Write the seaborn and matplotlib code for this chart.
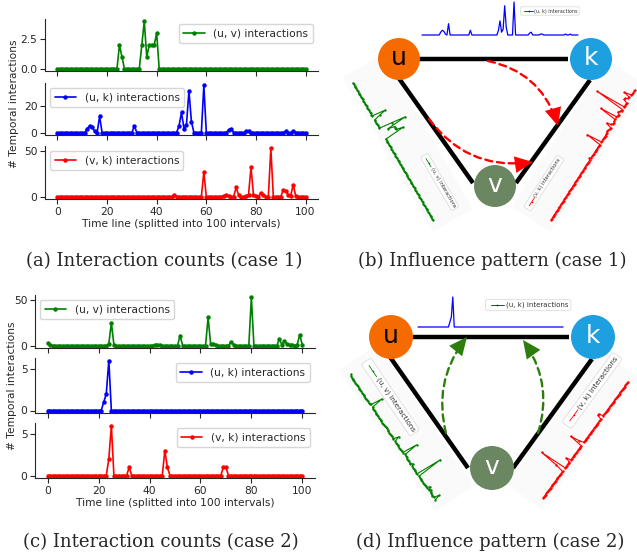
import numpy as np
import matplotlib
matplotlib.use('Agg')
import matplotlib.pyplot as plt
import seaborn as sns
from matplotlib.patches import Circle, FancyArrowPatch, Rectangle
from matplotlib.transforms import Affine2D

W, H = 637, 556
time_line = np.arange(101)

# non-zero intervals of each series (every other interval is 0)
uv1_t = [25, 26, 34, 35, 36, 37, 38, 39, 40]
uv1_v = [2, 1, 2, 4, 1, 2, 2, 2, 3]
uk1_t = [12, 13, 14, 15, 17, 31, 49, 50, 51, 52, 53, 54, 59, 69, 70, 76, 77, 92, 95]
uk1_v = [3, 5, 4, 1, 12, 5, 5, 15, 3, 6, 31, 8, 35, 2, 3, 1, 1, 1, 1]
vk1_t = [47, 59, 67, 68, 69, 72, 73, 76, 77, 78, 79, 80, 82, 83, 86, 91, 92, 93, 94, 95, 96]
vk1_v = [2, 27, 1, 2, 1, 10, 2, 1, 2, 32, 2, 1, 4, 2, 53, 7, 6, 2, 1, 13, 1]

uv2_t = [0, 1, 24, 25, 26, 42, 43, 44, 52, 63, 64, 65, 66, 72, 73, 80,
         91, 92, 93, 94, 95, 96, 98, 99, 100]
uv2_v = [3, 1, 2, 25, 1, 1, 1, 1, 11, 31, 2, 2, 1, 4, 1, 53,
         7, 1, 5, 2, 1, 1, 1, 12, 1]
uk2_t = [22, 23, 24]
uk2_v = [1, 2, 6]
vk2_t = [24, 25, 32, 46, 47, 69, 70]
vk2_v = [2, 6, 1, 3, 1, 1, 1]

labels = ['(u, v) interactions', '(u, k) interactions', '(v, k) interactions']
colors = ['green', 'blue', 'red']
captions = ['(a) Interaction counts (case 1)', '(b) Influence pattern (case 1)',
            '(c) Interaction counts (case 2)', '(d) Influence pattern (case 2)']


def series(ts, vs):
    arr = np.zeros(len(time_line))
    arr[ts] = vs
    return arr


case1 = [series(uv1_t, uv1_v), series(uk1_t, uk1_v), series(vk1_t, vk1_v)]
case2 = [series(uv2_t, uv2_v), series(uk2_t, uk2_v), series(vk2_t, vk2_v)]

sns.set_style('ticks')
plt.rcParams['font.family'] = ['DejaVu Sans']
plt.rcParams['font.size'] = 7.7

fig = plt.figure(figsize=(W / 100, H / 100), dpi=100)


def px_axes(x0, y0, x1, y1):
    return fig.add_axes([x0 / W, 1 - y1 / H, (x1 - x0) / W, (y1 - y0) / H])


def counts_panel(xs, rows, data, locs, yticks, ylab_xy):
    axes = []
    for i, (y0, y1) in enumerate(rows):
        ax = px_axes(xs[0], y0, xs[1], y1)
        sns.lineplot(x=time_line, y=data[i], ax=ax, color=colors[i], marker='o',
                     markersize=3.2, markeredgewidth=0, linewidth=1.2, label=labels[i])
        ax.legend(loc=locs[i], fontsize=7.7)
        ax.set_xlim(-5, 105)
        ax.set_xticks(range(0, 101, 20))
        ax.set_yticks(yticks[i][0])
        ax.set_yticklabels(yticks[i][1])
        ax.tick_params(labelsize=7.7, length=3.5, pad=2)
        ax.set_ylabel('')
        sns.despine(ax=ax)
        if i < 2:
            ax.tick_params(labelbottom=False)
        axes.append(ax)
    axes[-1].set_xlabel('Time line (splitted into 100 intervals)', fontsize=7.7, labelpad=2)
    fig.text(ylab_xy[0] / W, 1 - ylab_xy[1] / H, '# Temporal interactions',
             rotation=90, ha='center', va='center', fontsize=7.7)
    return axes


counts_panel((45, 318), [(19, 71), (83, 135), (146, 199)], case1,
             ['upper right', 'upper left', 'upper left'],
             [([0, 2.5], ['0.0', '2.5']), ([0, 20], ['0', '20']), ([0, 50], ['0', '50'])],
             (14, 104))
counts_panel((35, 315), [(295, 348), (358, 413), (423, 478)], case2,
             ['upper left', 'upper right', 'upper right'],
             [([0, 50], ['0', '50']), ([0, 5], ['0', '5']), ([0, 5], ['0', '5'])],
             (12, 386))

# diagram layer in pixel coordinates (y up)
dax = fig.add_axes([0, 0, 1, 1])
dax.set_xlim(0, W)
dax.set_ylim(0, H)
dax.axis('off')


def S(x, y):
    return x, H - y


def mini_plot(vals, start, end, height, color, label, leg_along, leg_perp, fs, side=True):
    sx, sy = S(*start)
    ex, ey = S(*end)
    length = np.hypot(ex - sx, ey - sy)
    ang = np.degrees(np.arctan2(ey - sy, ex - sx))
    frame = Affine2D().rotate_deg(ang).translate(sx, sy) + dax.transData
    data_tr = Affine2D().scale(length / 100, height / vals.max()) + frame
    if side:
        dax.add_patch(Rectangle((-10, -6), length + 20, 46, transform=frame,
                                fc='#fafafa', ec='none', zorder=0))
        dax.plot(time_line, vals, transform=data_tr, color=color, lw=0.8,
                 marker='o', ms=1.7, mew=0, zorder=2)
    else:
        dax.plot(time_line, vals, transform=data_tr, color=color, lw=0.9, zorder=2)
    em = fs * 100 / 72
    dax.text(leg_along, leg_perp, '        ' + label, transform=frame, rotation=ang,
             rotation_mode='anchor', ha='left', va='center', fontsize=fs, zorder=3,
             color='#333333',
             bbox=dict(boxstyle='round,pad=0.35', fc='white', ec='#d8d8d8', lw=0.5))
    dax.plot([leg_along + 0.4 * em, leg_along + 2.3 * em], [leg_perp, leg_perp],
             transform=frame, color=color, lw=0.6, zorder=4)
    dax.plot([leg_along + 1.35 * em], [leg_perp], transform=frame, color=color,
             marker='o', ms=1.2, mew=0, zorder=4)


def node(xy, r, color, name, tcolor):
    dax.add_patch(Circle(S(*xy), r, fc=color, ec='none', zorder=5))
    dax.text(*S(xy[0], xy[1] - 1), name, ha='center', va='center', fontsize=18,
             color=tcolor, zorder=6)


def edge(p0, p1):
    dax.plot(*zip(S(*p0), S(*p1)), color='black', lw=3.2, solid_capstyle='butt', zorder=3)


def arrow(p0, p1, rad, color):
    cs = 'arc3,rad=%s' % rad
    dax.add_patch(FancyArrowPatch(S(*p0), S(*p1), connectionstyle=cs, arrowstyle='-',
                                  color=color, lw=1.7, linestyle=(0, (3, 2)),
                                  shrinkA=0, shrinkB=5, zorder=4))
    dax.add_patch(FancyArrowPatch(S(*p0), S(*p1), connectionstyle=cs,
                                  arrowstyle='-|>,head_length=13,head_width=6',
                                  fc=color, ec='none', lw=0, shrinkA=0, shrinkB=0,
                                  zorder=4))


node_colors = {'u': '#f56b00', 'k': '#1e9fe0', 'v': '#6b8762'}

# (b) influence pattern, case 1
mini_plot(case1[1], (422, 35), (578, 35), 33, 'blue', labels[1], 100, 24, 3.5, side=False)
mini_plot(case1[0], (353, 83), (433, 220), 28, 'green', labels[0], 100, 25, 3.7)
mini_plot(case1[2], (551, 220), (635, 90), 31, 'red', labels[2], -2, 26, 3.7)
edge((419, 59), (568, 59))
edge((398, 77), (473, 183))
edge((590, 80), (516, 183))
arrow((488, 61), (558, 126), -0.3, 'red')
arrow((429, 119), (533, 162), 0.3, 'red')
node((399, 59), 21, node_colors['u'], 'u', 'black')
node((591, 59), 21, node_colors['k'], 'k', 'white')
node((495, 186), 21, node_colors['v'], 'v', 'white')

# (d) influence pattern, case 2
mini_plot(case2[1], (418, 327), (563, 327), 30, 'blue', labels[1], 70, 22, 5, side=False)
mini_plot(case2[0], (350, 375), (435, 500), 27, 'green', labels[0], 0, 21, 5.2)
mini_plot(case2[2], (543, 498), (628, 382), 28, 'red', labels[2], 75, 24, 5.2)
edge((413, 337), (569, 337))
edge((390, 357), (468, 468))
edge((592, 359), (513, 468))
arrow((446, 433), (467, 337), -0.25, '#2e7d0f')
arrow((538, 433), (523, 340), 0.25, '#2e7d0f')
node((391, 337), 22, node_colors['u'], 'u', 'black')
node((593, 337), 22, node_colors['k'], 'k', 'white')
node((492, 468), 22, node_colors['v'], 'v', 'white')

for cap, (cx, cy) in zip(captions, [(164, 261), (492, 261), (161, 542), (490, 542)]):
    fig.text(cx / W, 1 - cy / H, cap, ha='center', va='center',
             family='DejaVu Serif', fontsize=13)

fig.savefig('out.png', dpi=100)
